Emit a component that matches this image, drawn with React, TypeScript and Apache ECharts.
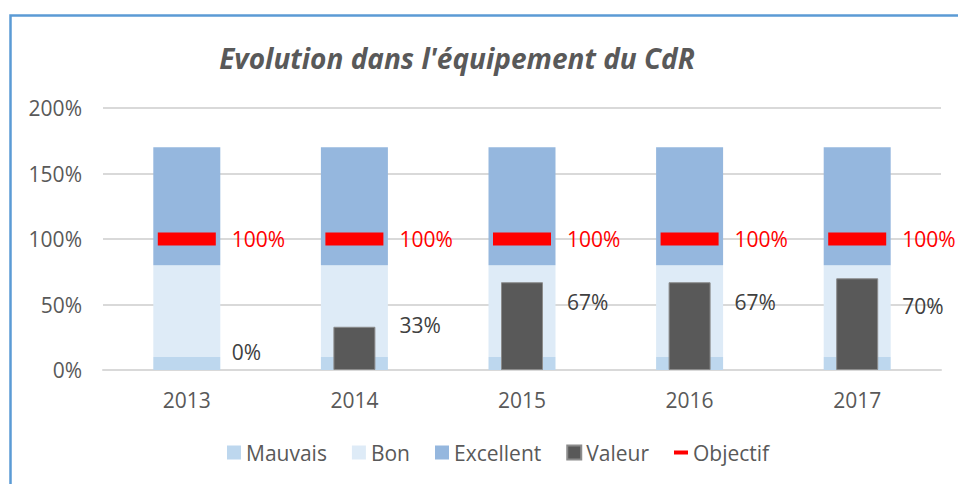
import React, { useEffect, useRef } from "react";
import * as echarts from "echarts";

const categories = ["2013", "2014", "2015", "2016", "2017"];
const mauvais = [10, 10, 10, 10, 10];
const bon = [70, 70, 70, 70, 70];
const excellent = [90, 90, 90, 90, 90];
const valeur = [0, 33, 67, 67, 70];
const objectif = [100, 100, 100, 100, 100];
const yTicks = [0, 50, 100, 150, 200];
// vertical shift of the Valeur data labels (as placed in the original)
const valeurLabelShift = [-18, -2, 20, 20, 28];

const FONT = "'Open Sans', 'Noto Sans', sans-serif";
const GREY = "#595959";
const FS = 21;

export default function App() {
  const ref = useRef<HTMLDivElement>(null);
  useEffect(() => {
    if (!ref.current) return;
    const chart = echarts.init(ref.current, null, { renderer: "svg" });
    const option: any = {
      animation: false,
      backgroundColor: "#ffffff",
      textStyle: { fontFamily: FONT },
      title: {
        text: "Evolution dans l'équipement du CdR",
        left: 452,
        top: 39,
        textAlign: "center",
        textStyle: {
          fontFamily: FONT,
          fontSize: 28,
          fontWeight: "bold",
          fontStyle: "italic",
          color: GREY,
        },
      },
      graphic: [
        {
          type: "rect",
          shape: { x: 10.5, y: 15.5, width: 1200, height: 1200 },
          style: { fill: "none", stroke: "#5B9BD5", lineWidth: 2.5 },
          silent: true,
        },
      ],
      legend: {
        left: 222,
        top: 437,
        itemWidth: 14,
        itemHeight: 14,
        itemGap: 25,
        textStyle: { fontFamily: FONT, fontSize: FS, color: GREY },
        data: [
          { name: "Mauvais", icon: "rect" },
          { name: "Bon", icon: "rect" },
          { name: "Excellent", icon: "rect" },
          { name: "Valeur", icon: "rect" },
          {
            name: "Objectif",
            icon: "path://M0,0L0.01,0L0,0.01ZM0,5H14V9H0ZM14,14L13.99,14L14,13.99Z",
          },
        ],
      },
      grid: { left: 103, right: 17, top: 108, bottom: 114 },
      xAxis: [
        {
          type: "category",
          data: categories,
          axisLine: { lineStyle: { color: "#D9D9D9", width: 2 } },
          axisTick: { show: false },
          axisLabel: { color: GREY, fontSize: FS, fontFamily: FONT, margin: 19 },
        },
        {
          type: "category",
          data: categories,
          show: false,
          position: "bottom",
        },
      ],
      yAxis: {
        type: "value",
        min: 0,
        max: 200,
        interval: 50,
        axisLine: { show: false },
        axisTick: { show: false },
        splitLine: { lineStyle: { color: "#D9D9D9", width: 2 } },
        axisLabel: {
          color: GREY,
          fontSize: FS,
          fontFamily: FONT,
          margin: 21,
          formatter: (v: number) => (yTicks.includes(v) ? v + "%" : ""),
        },
      },
      series: [
        {
          name: "Mauvais",
          type: "bar",
          stack: "bg",
          barWidth: 67,
          data: mauvais,
          itemStyle: { color: "#BDD7EE" },
        },
        {
          name: "Bon",
          type: "bar",
          stack: "bg",
          barWidth: 67,
          data: bon,
          itemStyle: { color: "#DEEBF7" },
        },
        {
          name: "Excellent",
          type: "bar",
          stack: "bg",
          barWidth: 67,
          data: excellent,
          itemStyle: { color: "#95B7DE" },
        },
        {
          name: "Valeur",
          type: "bar",
          xAxisIndex: 1,
          barWidth: 42,
          z: 3,
          itemStyle: { color: "#595959", borderColor: "#8C8C8C", borderWidth: 1 },
          data: valeur.map((v, i) => ({
            value: v,
            itemStyle: v === 0 ? { borderWidth: 0 } : undefined,
            label: { position: [66, valeurLabelShift[i]] },
          })),
          label: {
            show: true,
            formatter: "{c}%",
            align: "left",
            verticalAlign: "middle",
            color: "#404040",
            fontSize: FS,
            fontFamily: FONT,
          },
        },
        {
          name: "Objectif",
          type: "scatter",
          xAxisIndex: 1,
          symbol: "rect",
          symbolSize: [58, 13],
          z: 4,
          itemStyle: { color: "#FF0000", opacity: 1 },
          data: objectif,
          label: {
            show: true,
            position: "right",
            distance: 16,
            formatter: "{c}%",
            color: "#FF0000",
            fontSize: FS,
            fontFamily: FONT,
          },
        },
      ],
    };
    chart.setOption(option);
    return () => chart.dispose();
  }, []);
  return (
    <div
      ref={ref}
      style={{ position: "fixed", left: 0, top: 0, width: 958, height: 484 }}
    />
  );
}
